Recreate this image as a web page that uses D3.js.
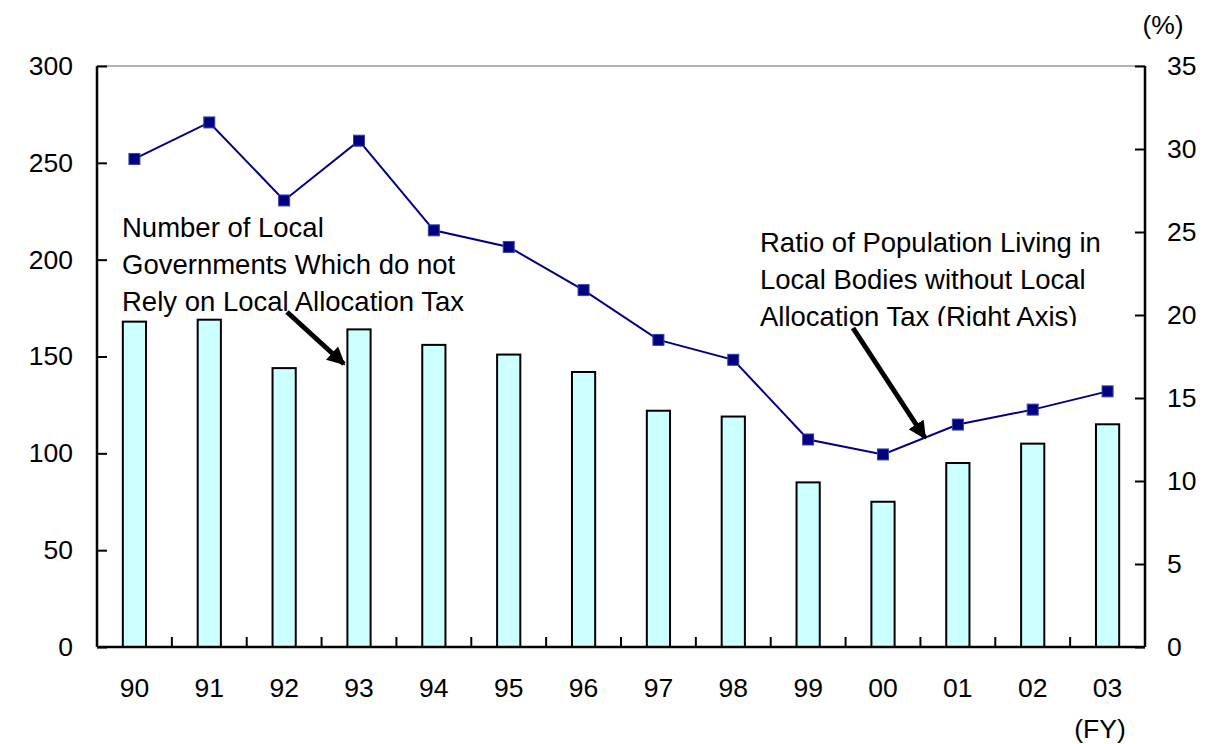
<!DOCTYPE html>
<html>
<head>
<meta charset="utf-8">
<script src="https://cdn.jsdelivr.net/npm/d3@7/dist/d3.min.js"></script>
<style>
  html, body { margin: 0; padding: 0; background: #fff; }
  svg { display: block; font-family: "Liberation Sans", Arial, sans-serif; }
</style>
</head>
<body>
<svg id="chart" width="1227" height="744"></svg>
<script>
// Fiscal years
const years = ["90", "91", "92", "93", "94", "95", "96", "97", "98", "99", "00", "01", "02", "03"];
// Number of local governments not relying on local allocation tax (left axis)
const governments = [168, 169, 144, 164, 156, 151, 142, 122, 119, 85, 75, 95, 105, 115];
// Ratio of population living in those bodies, % (right axis)
const populationRatio = [29.4, 31.6, 26.9, 30.5, 25.1, 24.1, 21.5, 18.5, 17.3, 12.5, 11.6, 13.4, 14.3, 15.4];
const leftTicks = [0, 50, 100, 150, 200, 250, 300];
const rightTicks = [0, 5, 10, 15, 20, 25, 30, 35];

const svg = d3.select("#chart");
const m = { left: 97, right: 1145, top: 66, bottom: 647 };

const x = d3.scaleBand().domain(years).range([m.left, m.right]).paddingInner(0).paddingOuter(0);
const yL = d3.scaleLinear().domain([0, 300]).range([m.bottom, m.top]);
const yR = d3.scaleLinear().domain([0, 35]).range([m.bottom, m.top]);

const fontSize = 26.5;
const noteFontSize = 27.5;

// top border
svg.append("line")
  .attr("x1", m.left).attr("x2", m.right).attr("y1", m.top).attr("y2", m.top)
  .attr("stroke", "#999").attr("stroke-width", 1.5);

// bars
const barW = x.bandwidth() * 0.31;
svg.append("g").selectAll("rect").data(governments).join("rect")
  .attr("x", (d, i) => x(years[i]) + x.bandwidth() / 2 - barW / 2)
  .attr("y", d => yL(d))
  .attr("width", barW)
  .attr("height", d => yL(0) - yL(d))
  .attr("fill", "#ccffff")
  .attr("stroke", "#000")
  .attr("stroke-width", 2);

// left axis
const leftAxis = svg.append("g").attr("transform", `translate(${m.left},0)`)
  .call(d3.axisLeft(yL).tickValues(leftTicks).tickSize(-10).tickPadding(24));
// right axis
const rightAxis = svg.append("g").attr("transform", `translate(${m.right},0)`)
  .call(d3.axisRight(yR).tickValues(rightTicks).tickSize(-10).tickPadding(22));
// bottom axis: labels only, separators drawn below
const bottomAxis = svg.append("g").attr("transform", `translate(0,${m.bottom})`)
  .call(d3.axisBottom(x).tickSize(0).tickPadding(31));

[leftAxis, rightAxis, bottomAxis].forEach(g => {
  g.select(".domain").attr("stroke", "#000").attr("stroke-width", 2.5);
  g.selectAll(".tick line").attr("stroke", "#000").attr("stroke-width", 2);
  g.selectAll(".tick text").attr("font-size", fontSize).attr("fill", "#000")
    .attr("font-family", "'Liberation Sans', Arial, sans-serif");
});
leftAxis.select(".domain").attr("d", `M0,${m.top}V${m.bottom}`);
rightAxis.select(".domain").attr("d", `M0,${m.top}V${m.bottom}`);
bottomAxis.select(".domain").attr("d", `M${m.left},0H${m.right}`);

// category separators on the x axis
svg.append("g").selectAll("line").data(years.slice(1)).join("line")
  .attr("x1", d => x(d)).attr("x2", d => x(d))
  .attr("y1", m.bottom).attr("y2", m.bottom - 10)
  .attr("stroke", "#000").attr("stroke-width", 2);

// line series
const lineGen = d3.line()
  .x((d, i) => x(years[i]) + x.bandwidth() / 2)
  .y(d => yR(d));
svg.append("path").datum(populationRatio)
  .attr("d", lineGen)
  .attr("fill", "none")
  .attr("stroke", "#000080")
  .attr("stroke-width", 2);
svg.append("g").selectAll("rect").data(populationRatio).join("rect")
  .attr("x", (d, i) => x(years[i]) + x.bandwidth() / 2 - 5.5)
  .attr("y", d => yR(d) - 5.5)
  .attr("width", 11).attr("height", 11)
  .attr("fill", "#000080")
  .attr("stroke", "#3344aa").attr("stroke-width", 1);

// unit labels
svg.append("text").attr("x", 1163).attr("y", 34).attr("text-anchor", "middle")
  .attr("font-size", fontSize).text("(%)");
svg.append("text").attr("x", 1100).attr("y", 738).attr("text-anchor", "middle")
  .attr("font-size", fontSize).text("(FY)");

// annotations
const defs = svg.append("defs");
defs.append("marker").attr("id", "arrowhead")
  .attr("viewBox", "0 0 10 10").attr("refX", 9).attr("refY", 5)
  .attr("markerWidth", 3.6).attr("markerHeight", 3.6)
  .attr("markerUnits", "strokeWidth")
  .attr("orient", "auto")
  .append("path").attr("d", "M0,0L10,5L0,10z").attr("fill", "#000");
defs.append("clipPath").attr("id", "noteClip")
  .append("rect").attr("x", 740).attr("y", 220).attr("width", 400).attr("height", 106);

function note(lines, x0, y0, clip) {
  const t = svg.append("text").attr("font-size", noteFontSize).attr("fill", "#000");
  if (clip) t.attr("clip-path", "url(#noteClip)");
  lines.forEach((s, i) => t.append("tspan").attr("x", x0).attr("y", y0 + i * 37).text(s));
}
note(["Number of Local", "Governments Which do not", "Rely on Local Allocation Tax"], 122, 237, false);
note(["Ratio of Population Living in", "Local Bodies without Local", "Allocation Tax (Right Axis)"], 760, 252, true);

function arrow(x1, y1, x2, y2) {
  svg.append("line")
    .attr("x1", x1).attr("y1", y1).attr("x2", x2).attr("y2", y2)
    .attr("stroke", "#000").attr("stroke-width", 5)
    .attr("marker-end", "url(#arrowhead)");
}
arrow(287, 312, 344, 364);
arrow(853, 328, 925, 438);
</script>
</body>
</html>
